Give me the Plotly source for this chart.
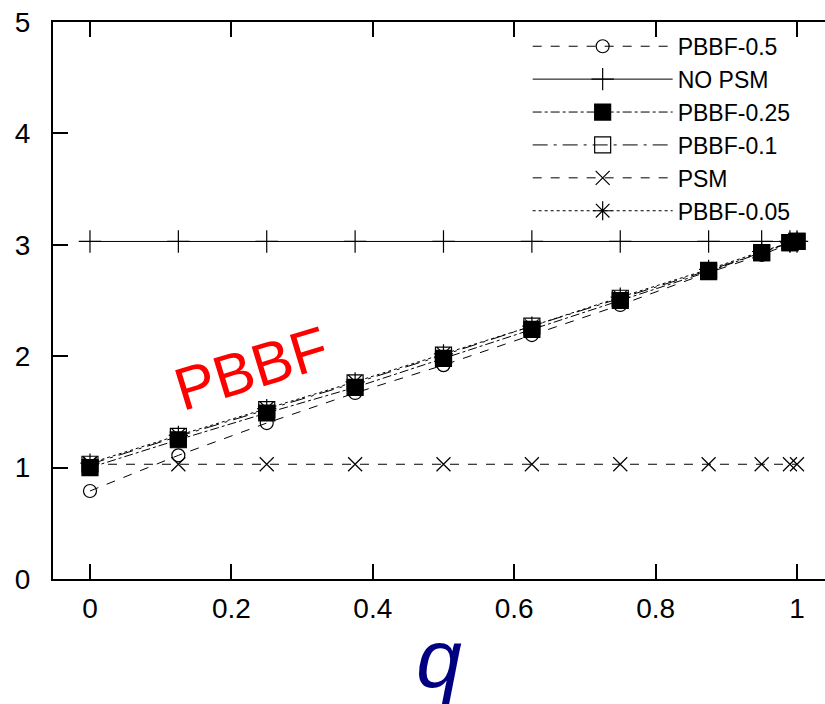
import plotly.graph_objects as go

q = [0, 0.125, 0.25, 0.375, 0.5, 0.625, 0.75, 0.875, 0.95, 0.99, 1.0]
pbbf_05 = [0.79, 1.11, 1.40, 1.67, 1.92, 2.19, 2.46, 2.75, 2.91, 3.01, 3.03]
no_psm = [3.03, 3.03, 3.03, 3.03, 3.03, 3.03, 3.03, 3.03, 3.03, 3.03, 3.03]
pbbf_025 = [1.00, 1.25, 1.49, 1.72, 1.98, 2.24, 2.50, 2.76, 2.93, 3.02, 3.03]
pbbf_01 = [1.03, 1.28, 1.52, 1.76, 2.01, 2.27, 2.52, 2.77, 2.93, 3.02, 3.03]
psm = [1.03, 1.03, 1.03, 1.03, 1.03, 1.03, 1.03, 1.03, 1.03, 1.03, 1.03]
pbbf_005 = [1.04, 1.29, 1.53, 1.77, 2.02, 2.27, 2.53, 2.78, 2.94, 3.02, 3.03]

x_ticks = [0, 0.2, 0.4, 0.6, 0.8, 1]
x_tick_text = ["0", "0.2", "0.4", "0.6", "0.8", "1"]
y_ticks = [0, 1, 2, 3, 4, 5]

series = [
    ("PBBF-0.5", pbbf_05, "dash", "circle-open", 13),
    ("NO PSM", no_psm, "solid", "cross-thin-open", 16),
    ("PBBF-0.25", pbbf_025, "dashdot", "square", 16),
    ("PBBF-0.1", pbbf_01, "longdashdot", "square-open", 16),
    ("PSM", psm, "dash", "x-thin-open", 14),
    ("PBBF-0.05", pbbf_005, "dot", "asterisk-open", 16),
]

fig = go.Figure()
for name, ys, dash, sym, size in series:
    fig.add_trace(go.Scatter(
        x=q, y=ys, name=name, mode="lines+markers",
        line=dict(color="black", width=1, dash=dash),
        marker=dict(symbol=sym, size=size, color="black",
                    line=dict(color="black", width=1.2)),
    ))

font = "Liberation Sans, Arial, Helvetica, sans-serif"

fig.add_annotation(x=0.229, y=1.89, xref="x", yref="y", text="PBBF",
                   showarrow=False, textangle=-17,
                   font=dict(family=font, size=60, color="red"))

fig.update_layout(
    width=825, height=704,
    margin=dict(l=53, r=0, t=22, b=125),
    paper_bgcolor="white", plot_bgcolor="white",
    font=dict(family=font, size=28, color="black"),
    showlegend=True,
    legend=dict(x=0.962, y=0.995, xanchor="right", yanchor="top",
                bgcolor="rgba(0,0,0,0)", font=dict(size=23, family=font),
                itemwidth=140, tracegroupgap=0),
    xaxis=dict(range=[-0.0523, 1.0396], tickvals=x_ticks, ticktext=x_tick_text,
               ticks="inside", ticklen=15, tickwidth=1.5, tickcolor="black",
               showline=True, linecolor="black", linewidth=2, mirror="ticks",
               showgrid=False, zeroline=False, ticklabelstandoff=3,
               title=dict(text="<i>q</i>", font=dict(size=82, color="#000080", family=font), standoff=11)),
    yaxis=dict(range=[0, 5], tickvals=y_ticks,
               ticks="inside", ticklen=15, tickwidth=1.5, tickcolor="black",
               showline=True, linecolor="black", linewidth=2, mirror=False,
               showgrid=False, zeroline=False, ticklabelstandoff=15),
)

fig.write_html("out.html", config={"displayModeBar": False},
               post_script="document.body.style.margin='0px';document.body.style.overflow='hidden';")
